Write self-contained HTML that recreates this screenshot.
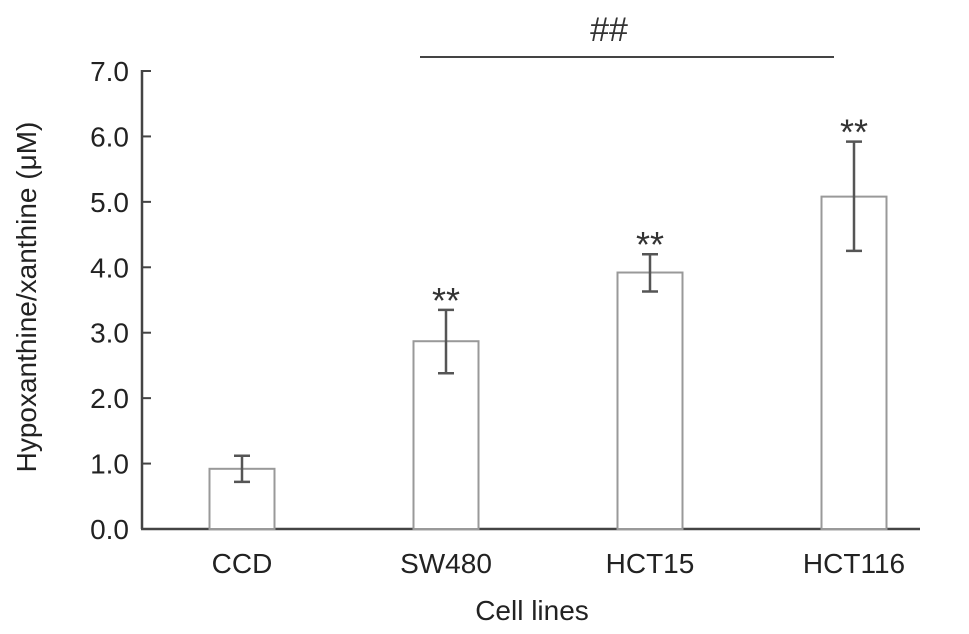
<!DOCTYPE html>
<html><head><meta charset="utf-8"><style>
body{margin:0;background:#fff;}
svg{display:block;font-family:"Liberation Sans",Arial,sans-serif;}
</style></head><body>
<svg id="chart" width="969" height="634"></svg>
<script>
const categories=["CCD","SW480","HCT15","HCT116"];
const means=[0.92,2.87,3.92,5.08];
const errLow=[0.72,2.38,3.63,4.25];
const errHigh=[1.12,3.35,4.20,5.92];
const sigLabels=["","**","**","**"];
const yTicks=[0,1,2,3,4,5,6,7];
const yTickLabels=["0.0","1.0","2.0","3.0","4.0","5.0","6.0","7.0"];
const ns="http://www.w3.org/2000/svg";
const svg=document.getElementById("chart");
const y0=529,yTop=71,yMax=7;
function y(v){return y0-(y0-yTop)*v/yMax;}
const axX=142,firstC=242,step=204,bw=65;
function x(i){return firstC+i*step;}
function mk(tag,attrs,text){const e=document.createElementNS(ns,tag);for(const k in attrs)e.setAttribute(k,attrs[k]);if(text!==undefined)e.textContent=text;svg.appendChild(e);return e;}
let e;
e=mk("line",{x1:axX,y1:yTop-1,x2:axX,y2:y0,stroke:"#444","stroke-width":2.5});


e=mk("line",{x1:axX-1,y1:y0,x2:920,y2:y0,stroke:"#444","stroke-width":2.5});


yTicks.forEach((t,i)=>{
 const tk=mk("line",{x1:axX,y1:y(t),x2:axX+9,y2:y(t),stroke:"#444","stroke-width":2});
 
 
 const lb=mk("text",{x:129,y:y(t)+10,"text-anchor":"end","font-size":28,fill:"#222"},yTickLabels[i]);
 
 
});
categories.forEach((c,i)=>{
 const cx=x(i);
 const r=mk("rect",{x:cx-bw/2,y:y(means[i]),width:bw,height:y0-y(means[i]),fill:"#fff",stroke:"#999","stroke-width":2});
 
 
 const g=mk("path",{d:`M${cx-8},${y(errHigh[i])}H${cx+8}M${cx},${y(errHigh[i])}V${y(errLow[i])}M${cx-8},${y(errLow[i])}H${cx+8}`,stroke:"#555","stroke-width":2.5,fill:"none"});
 
 
 if(sigLabels[i]){
  const s=mk("text",{x:cx,y:y(errHigh[i])+3,"text-anchor":"middle","font-size":36,fill:"#333"},sigLabels[i]);
  
  
 }
 const l=mk("text",{x:cx,y:573,"text-anchor":"middle","font-size":28,fill:"#222"},c);
 
 
});
e=mk("line",{x1:420,y1:57,x2:834,y2:57,stroke:"#444","stroke-width":2});


e=mk("text",{x:609,y:41,"text-anchor":"middle","font-size":34,fill:"#333"},"##");


e=mk("text",{x:532,y:620,"text-anchor":"middle","font-size":28,fill:"#222"},"Cell lines");


e=mk("text",{x:0,y:0,"text-anchor":"middle","font-size":28,fill:"#222",transform:"translate(36,297) rotate(-90)"},"Hypoxanthine/xanthine (μM)");


</script>
</body></html>
